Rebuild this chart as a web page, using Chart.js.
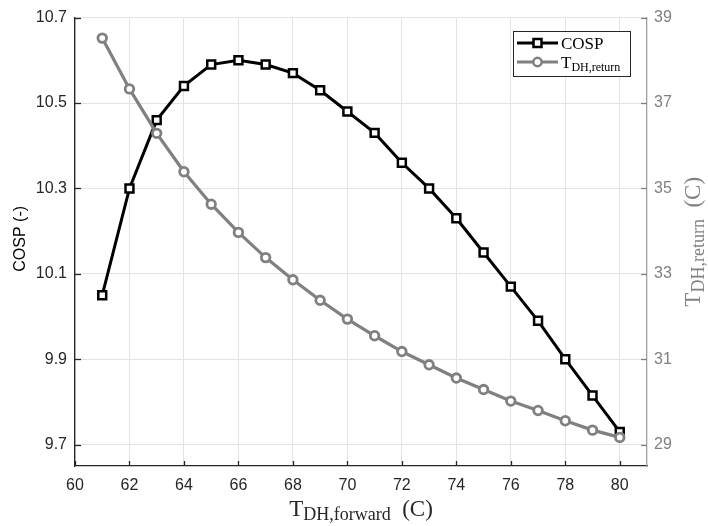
<!DOCTYPE html>
<html>
<head>
<meta charset="utf-8">
<script src="https://cdn.jsdelivr.net/npm/chart.js@4.4.0/dist/chart.umd.min.js"></script>
<style>
  html, body { margin: 0; padding: 0; background: #fff; }
  #wrap { width: 708px; height: 526px; position: relative; }
</style>
</head>
<body>
<div id="wrap"><canvas id="chart"></canvas></div>
<script>
// values
const forwardTemp = [61, 62, 63, 64, 65, 66, 67, 68, 69, 70, 71, 72, 73, 74, 75, 76, 77, 78, 79, 80];
const cosp = [10.05, 10.30, 10.46, 10.54, 10.59, 10.60, 10.59, 10.57, 10.53, 10.48,
              10.43, 10.36, 10.30, 10.23, 10.15, 10.07, 9.99, 9.90, 9.815, 9.73];
const returnTemp = [38.52, 37.33, 36.29, 35.39, 34.63, 33.97, 33.38, 32.86, 32.38, 31.94,
                    31.55, 31.18, 30.87, 30.56, 30.29, 30.02, 29.80, 29.56, 29.34, 29.17];
const xTicks = [60, 62, 64, 66, 68, 70, 72, 74, 76, 78, 80];
const cospTicks = [9.7, 9.9, 10.1, 10.3, 10.5, 10.7];
const returnTicks = [29, 31, 33, 35, 37, 39];

const SANS = '"Liberation Sans", Arial, sans-serif';
const SERIF = '"Liberation Serif", "Times New Roman", serif';
const GRAY = '#808080';
const DARK = '#262626';

// draws "T" + subscript + rest, starting at x (left), baseline y
function drawSubText(ctx, x, y, main, sub, rest, mainSize, subSize, subDrop, color) {
  ctx.fillStyle = color;
  ctx.textBaseline = 'alphabetic';
  ctx.textAlign = 'left';
  ctx.font = mainSize + 'px ' + SERIF;
  ctx.fillText(main, x, y);
  x += ctx.measureText(main).width;
  ctx.font = subSize + 'px ' + SERIF;
  ctx.fillText(sub, x, y + subDrop);
  x += ctx.measureText(sub).width;
  if (rest) {
    ctx.font = mainSize + 'px ' + SERIF;
    ctx.fillText(rest, x, y);
  }
}

function subTextWidth(ctx, main, sub, rest, mainSize, subSize) {
  ctx.font = mainSize + 'px ' + SERIF;
  let w = ctx.measureText(main).width + (rest ? ctx.measureText(rest).width : 0);
  ctx.font = subSize + 'px ' + SERIF;
  return w + ctx.measureText(sub).width;
}

const decorPlugin = {
  id: 'decor',
  afterDraw(chart) {
    const ctx = chart.ctx;
    const area = chart.chartArea;
    const sx = chart.scales.x, sy = chart.scales.y, sy1 = chart.scales.y1;
    ctx.save();

    // inward tick marks
    ctx.lineWidth = 1.3;
    ctx.strokeStyle = DARK;
    xTicks.forEach(v => {
      const px = Math.round(sx.getPixelForValue(v)) + 0.5;
      ctx.beginPath(); ctx.moveTo(px, area.bottom); ctx.lineTo(px, area.bottom - 5); ctx.stroke();
    });
    cospTicks.forEach(v => {
      const py = Math.round(sy.getPixelForValue(v)) + 0.5;
      ctx.beginPath(); ctx.moveTo(area.left, py); ctx.lineTo(area.left + 6, py); ctx.stroke();
    });
    ctx.strokeStyle = GRAY;
    returnTicks.forEach(v => {
      const py = Math.round(sy1.getPixelForValue(v)) + 0.5;
      ctx.beginPath(); ctx.moveTo(area.right, py); ctx.lineTo(area.right - 6, py); ctx.stroke();
    });

    // x axis title
    const xw = subTextWidth(ctx, 'T', 'DH,forward', '  (C)', 23, 18);
    drawSubText(ctx, (area.left + area.right) / 2 - xw / 2, 516, 'T', 'DH,forward', '  (C)', 23, 18, 4, DARK);

    // left axis title
    ctx.save();
    ctx.translate(25, (area.top + area.bottom) / 2 - 3);
    ctx.rotate(-Math.PI / 2);
    ctx.fillStyle = '#000';
    ctx.font = '16px ' + SANS;
    ctx.textAlign = 'center';
    ctx.textBaseline = 'alphabetic';
    ctx.fillText('COSP (-)', 0, 0);
    ctx.restore();

    // right axis title
    ctx.save();
    ctx.translate(700, (area.top + area.bottom) / 2);
    ctx.rotate(-Math.PI / 2);
    const rw = subTextWidth(ctx, 'T', 'DH,return', '  (C)', 23, 18);
    drawSubText(ctx, -rw / 2, 0, 'T', 'DH,return', '  (C)', 23, 18, 4, GRAY);
    ctx.restore();

    // legend
    const bx = 513.5, by = 31.5, bw = 117, bh = 45;
    ctx.fillStyle = '#fff';
    ctx.fillRect(bx, by, bw, bh);
    ctx.strokeStyle = DARK;
    ctx.lineWidth = 1;
    ctx.strokeRect(bx, by, bw, bh);

    const rows = [
      { y: 43, color: '#000', style: 'rect' },
      { y: 62, color: GRAY, style: 'circle' }
    ];
    rows.forEach(r => {
      ctx.strokeStyle = r.color;
      ctx.lineWidth = 3;
      ctx.beginPath(); ctx.moveTo(517, r.y); ctx.lineTo(558, r.y); ctx.stroke();
      ctx.fillStyle = '#fff';
      ctx.lineWidth = 2.5;
      ctx.beginPath();
      if (r.style === 'rect') ctx.rect(537.5 - 4, r.y - 4, 8, 8);
      else ctx.arc(537.5, r.y, 4.2, 0, Math.PI * 2);
      ctx.fill(); ctx.stroke();
    });
    ctx.fillStyle = '#000';
    ctx.font = '17px ' + SERIF;
    ctx.textAlign = 'left';
    ctx.textBaseline = 'alphabetic';
    ctx.fillText('COSP', 561, 49);
    drawSubText(ctx, 561, 68, 'T', 'DH,return', '', 17, 12, 3, '#000');

    ctx.restore();
  }
};

const ctx = document.getElementById('chart').getContext('2d');
new Chart(ctx, {
  type: 'line',
  data: {
    datasets: [
      {
        label: 'COSP',
        data: forwardTemp.map((t, i) => ({ x: t, y: cosp[i] })),
        yAxisID: 'y',
        borderColor: '#000',
        borderWidth: 3,
        pointStyle: 'rect',
        pointRadius: 5.6,
        pointBorderWidth: 2.5,
        pointBackgroundColor: '#fff',
        pointBorderColor: '#000',
        tension: 0,
        fill: false,
        order: 1
      },
      {
        label: 'T_DH,return',
        data: forwardTemp.map((t, i) => ({ x: t, y: returnTemp[i] })),
        yAxisID: 'y1',
        borderColor: GRAY,
        borderWidth: 3.2,
        pointStyle: 'circle',
        pointRadius: 4.3,
        pointBorderWidth: 2.8,
        pointBackgroundColor: '#fff',
        pointBorderColor: GRAY,
        tension: 0,
        fill: false,
        order: 0
      }
    ]
  },
  options: {
    responsive: true,
    maintainAspectRatio: false,
    animation: false,
    layout: { padding: { top: 14, left: 0, right: 0, bottom: 0 } },
    plugins: {
      legend: { display: false },
      tooltip: { enabled: false }
    },
    scales: {
      x: {
        type: 'linear',
        min: 60,
        max: 81,
        afterBuildTicks: (scale) => { scale.ticks = xTicks.map(v => ({ value: v })); },
        afterFit: (scale) => { scale.height = 60; },
        ticks: { color: DARK, font: { family: SANS, size: 16 }, padding: 10, maxRotation: 0 },
        grid: { color: '#e3e3e3', lineWidth: 1, drawTicks: false },
        border: { color: DARK, width: 1.3 }
      },
      y: {
        position: 'left',
        min: 9.65,
        max: 10.7,
        afterBuildTicks: (scale) => { scale.ticks = cospTicks.map(v => ({ value: v })); },
        afterFit: (scale) => { scale.width = 75; },
        ticks: { color: DARK, font: { family: SANS, size: 16 }, padding: 8, callback: v => v.toFixed(1) },
        grid: { color: '#e3e3e3', lineWidth: 1, drawTicks: false },
        border: { color: DARK, width: 1.3 }
      },
      y1: {
        position: 'right',
        min: 28.5,
        max: 39,
        afterBuildTicks: (scale) => { scale.ticks = returnTicks.map(v => ({ value: v })); },
        afterFit: (scale) => { scale.width = 61; },
        ticks: { color: GRAY, font: { family: SANS, size: 16 }, padding: 7, callback: v => String(v) },
        grid: { display: false, drawTicks: false },
        border: { color: '#a0a0a0', width: 1.3 }
      }
    }
  },
  plugins: [decorPlugin]
});
</script>
</body>
</html>
